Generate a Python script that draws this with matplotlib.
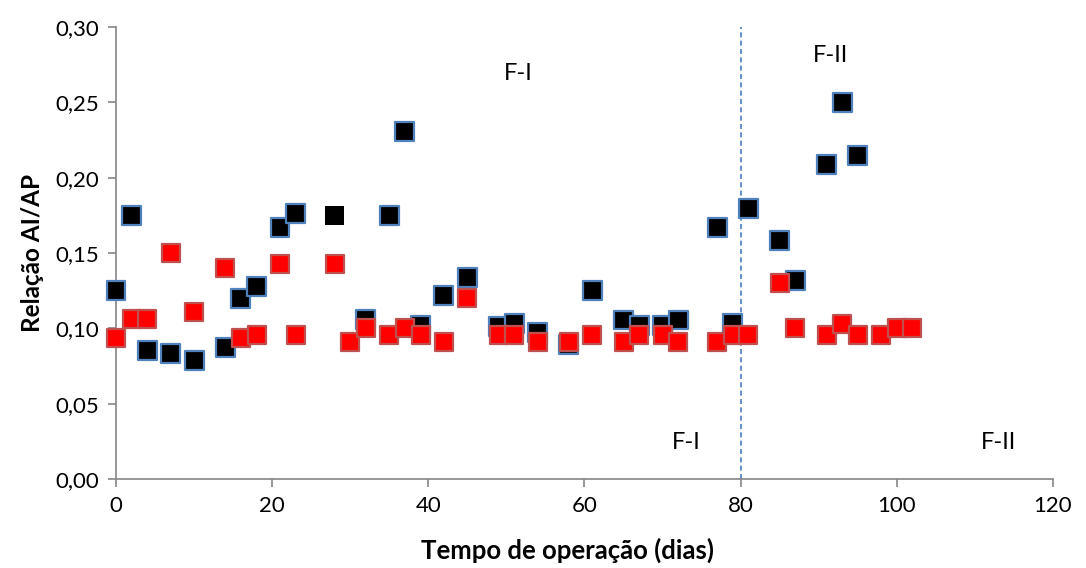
import matplotlib

matplotlib.use("Agg")
import matplotlib.pyplot as plt
from matplotlib.ticker import FuncFormatter

# Relação AI/AP ao longo do tempo de operação
dias_preto = [0, 2, 4, 7, 10, 14, 16, 18, 21, 23, 28, 32, 35, 37, 39, 42, 45, 49, 51,
              54, 58, 61, 65, 67, 70, 72, 77, 79, 81, 85, 87, 91, 93, 95]
ai_ap_preto = [0.125, 0.175, 0.085, 0.083, 0.0785, 0.087, 0.120, 0.128, 0.167, 0.176,
               0.175, 0.106, 0.175, 0.2305, 0.102, 0.122, 0.1335, 0.101, 0.103, 0.0975,
               0.089, 0.125, 0.1055, 0.102, 0.102, 0.1055, 0.167, 0.103, 0.1795, 0.158,
               0.132, 0.2085, 0.250, 0.2145]

dias_verm = [0, 2, 4, 7, 10, 14, 16, 18, 21, 23, 28, 30, 32, 35, 37, 39, 42, 45, 49, 51,
             54, 58, 61, 65, 67, 70, 72, 77, 79, 81, 85, 87, 91, 93, 95, 98, 100, 102]
ai_ap_verm = [0.0935, 0.1065, 0.1065, 0.150, 0.111, 0.140, 0.0935, 0.0955, 0.143, 0.0955,
              0.143, 0.091, 0.100, 0.0955, 0.100, 0.0955, 0.091, 0.120, 0.0955, 0.0955,
              0.091, 0.091, 0.0955, 0.091, 0.0955, 0.0955, 0.091, 0.091, 0.0955, 0.0955,
              0.130, 0.100, 0.0955, 0.103, 0.0955, 0.0955, 0.100, 0.100]

dia_transicao = 80
fases = ["F-I", "F-II", "F-I", "F-II"]
fases_x = [51.5, 91.5, 73.0, 113.0]
fases_y = [0.269, 0.281, 0.024, 0.024]

plt.rcParams["font.family"] = ["Lato", "DejaVu Sans"]

fig = plt.figure(figsize=(10.86, 5.68), dpi=100)
ax = fig.add_axes([0.1068, 0.1567, 0.8628, 0.7958])

# o ponto do dia 28 aparece sem contorno no original
bordas = ["none" if d == 28 else "#4f81bd" for d in dias_preto]
ax.scatter(dias_preto, ai_ap_preto, marker="s", s=185, c="black",
           edgecolors=bordas, linewidths=1.6, clip_on=False, zorder=3)
ax.scatter(dias_verm, ai_ap_verm, marker="s", s=185, c="red",
           edgecolors="#c0504d", linewidths=1.6, clip_on=False, zorder=4)

ax.axvline(dia_transicao, color="#4a7ebb", linestyle=(0, (3, 2)), linewidth=1.2, zorder=2)

for txt, x, y in zip(fases, fases_x, fases_y):
    ax.text(x, y, txt, fontsize=17, ha="center", va="center")

ax.set_xlim(0, 120)
ax.set_ylim(0, 0.30)
ax.set_xticks(range(0, 121, 20))
ax.set_yticks([0, 0.05, 0.10, 0.15, 0.20, 0.25, 0.30])
ax.yaxis.set_major_formatter(FuncFormatter(lambda v, _: f"{v:.2f}".replace(".", ",")))

for side in ("top", "right"):
    ax.spines[side].set_visible(False)
for side in ("left", "bottom"):
    ax.spines[side].set_color("#868686")
    ax.spines[side].set_linewidth(1.2)
ax.tick_params(direction="out", length=6, width=1.2, color="#868686",
               labelsize=16, pad=6)

ax.set_xlabel("Tempo de operação (dias)", fontsize=18.5, fontweight="bold", labelpad=16)
ax.xaxis.set_label_coords(0.482, -0.13)
ax.set_ylabel("Relação AI/AP", fontsize=17.5, fontweight="bold", labelpad=8)

fig.savefig("out.png", dpi=100)
